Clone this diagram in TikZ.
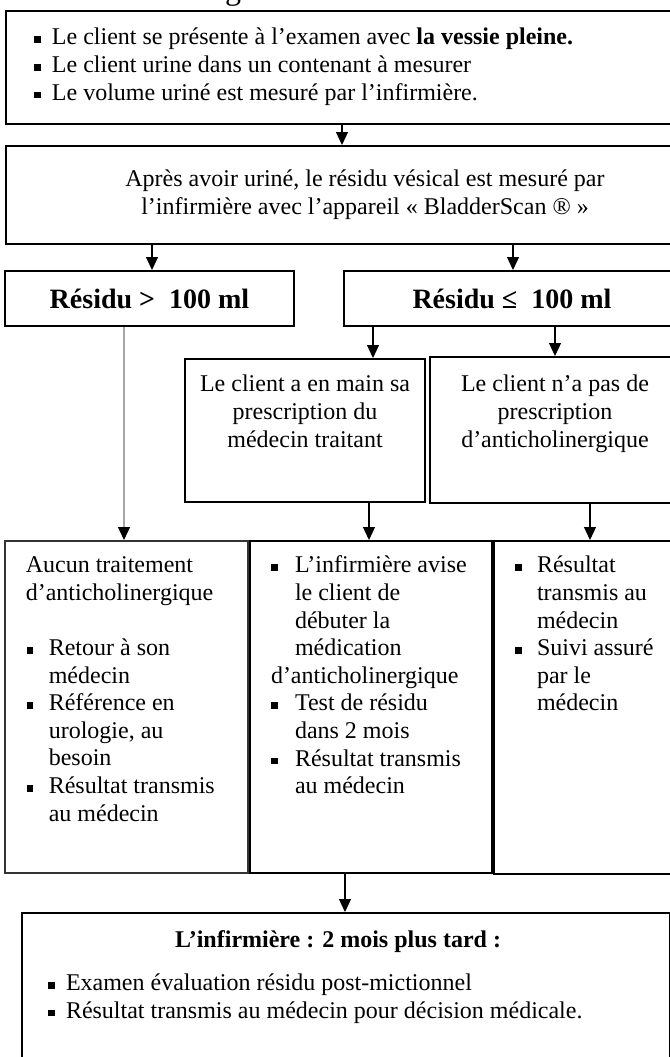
\documentclass[tikz,border=0pt]{standalone}
\usepackage{fontspec}
\setmainfont{Liberation Serif}
\usetikzlibrary{arrows.meta}
\newcommand{\bul}{\rule[1pt]{3.3pt}{3.3pt}}
\newcommand{\lineat}[2]{\noindent\hspace*{#1}\strut#2\par}
\newcommand{\bulat}[3]{\noindent\hspace*{#1}\makebox[\dimexpr#2-#1\relax][l]{\bul}\strut#3\par}
\tikzset{
  bx/.style={draw=black, line width=1pt, inner sep=0pt, anchor=north west},
  hdr/.style={bx, font={\fontsize{14}{16}\selectfont\bfseries}},
  arr/.style={line width=0.6pt, -{Triangle[width=6pt,length=6.5pt]}},
  garr/.style={draw=black!35, line width=0.6pt, -{Triangle[width=6pt,length=6.5pt,color=black]}},
}
\begin{document}
\begin{tikzpicture}[x=0.5pt,y=-0.5pt,font=\fontsize{12}{13.8}\selectfont]
\useasboundingbox (0,0) rectangle (670,1057);
\clip (0,0) rectangle (670,1057);

\node[font=\fontsize{16}{19}\selectfont, anchor=base, inner sep=0pt] (ttl) at (233,-1) {g};

\node[bx] (b1) at (5,10) {\parbox[c][56.5pt][t]{359pt}{\vspace*{7.3pt}%
  \bulat{14pt}{23pt}{Le client se présente à l’examen avec \textbf{la vessie pleine.}}
  \bulat{14pt}{23pt}{Le client urine dans un contenant à mesurer}
  \bulat{14pt}{23pt}{Le volume uriné est mesuré par l’infirmière.}}};

\node[bx] (b2) at (5,145) {\parbox[c][49pt][t]{359pt}{\vspace*{10.8pt}\centering
  \strut Après avoir uriné, le résidu vésical est mesuré par\\
  \strut l’infirmière avec l’appareil « BladderScan ® »\par}};

\node[hdr, minimum width=144.5pt, minimum height=27.5pt] (r1) at (4,270) {Résidu >\ \ 100 ml};
\node[hdr, minimum width=168pt, minimum height=27.5pt] (r2) at (343,270) {Résidu ≤\ \ 100 ml};

\node[bx] (ca) at (184,358) {\parbox[c][71.5pt][t]{120pt}{\vspace*{6.8pt}\centering
  \strut Le client a en main sa\\ \strut prescription du\\ \strut médecin traitant\par}};
\node[bx] (cb) at (429,356) {\parbox[c][73pt][t]{125pt}{\vspace*{7.8pt}\centering
  \strut Le client n’a pas de\\ \strut prescription\\ \strut d’anticholinergique\par}};

\node[bx, draw=black!80, line width=0.8pt] (lb) at (4,540) {\parbox[c][166pt][t]{121.5pt}{\vspace*{6.3pt}%
  \lineat{10.5pt}{Aucun traitement}
  \lineat{10.5pt}{d’anticholinergique}
  \lineat{0pt}{}
  \bulat{11pt}{22pt}{Retour à son}
  \lineat{22pt}{médecin}
  \bulat{11pt}{22pt}{Référence en}
  \lineat{22pt}{urologie, au}
  \lineat{22pt}{besoin}
  \bulat{11pt}{22pt}{Résultat transmis}
  \lineat{22pt}{au médecin}}};

\node[bx] (mb) at (249,540) {\parbox[c][166pt][t]{121pt}{\vspace*{6.3pt}%
  \bulat{10.5pt}{22.5pt}{L’infirmière avise}
  \lineat{22.5pt}{le client de}
  \lineat{22.5pt}{débuter la}
  \lineat{22.5pt}{médication}
  \lineat{10.5pt}{d’anticholinergique}
  \bulat{10.5pt}{22.5pt}{Test de résidu}
  \lineat{22.5pt}{dans 2 mois}
  \bulat{10.5pt}{22.5pt}{Résultat transmis}
  \lineat{22.5pt}{au médecin}}};

\node[bx] (rb) at (493,540) {\parbox[c][166.5pt][t]{93pt}{\vspace*{6.3pt}%
  \bulat{10.5pt}{21.5pt}{Résultat}
  \lineat{21.5pt}{transmis au}
  \lineat{21.5pt}{médecin}
  \bulat{10.5pt}{21.5pt}{Suivi assuré}
  \lineat{21.5pt}{par le}
  \lineat{21.5pt}{médecin}}};

\node[bx] (fb) at (21,912) {\parbox[c][94pt][t]{324pt}{\vspace*{7.8pt}%
  {\centering\hspace*{-8pt}\strut\textbf{L’infirmière : 2 mois plus tard :}\par}
  \vspace{7.5pt}
  \bulat{13pt}{22pt}{Examen évaluation résidu post-mictionnel}
  \bulat{13pt}{22pt}{Résultat transmis au médecin pour décision médicale.}}};

\coordinate (x1) at (342,0);
\coordinate (x2) at (152,0);
\coordinate (x3) at (513,0);
\coordinate (x4) at (373,0);
\coordinate (x5) at (555,0);
\coordinate (x6) at (124,0);
\coordinate (x7) at (369,0);
\coordinate (x8) at (590,0);
\coordinate (x9) at (345,0);

\draw[arr] (x1 |- b1.south) -- (x1 |- b2.north);
\draw[arr] (x2 |- b2.south) -- (x2 |- r1.north);
\draw[arr] (x3 |- b2.south) -- (x3 |- r2.north);
\draw[arr] (x4 |- r2.south) -- (x4 |- ca.north);
\draw[arr] (x5 |- r2.south) -- (x5 |- cb.north);
\draw[garr] (x6 |- r1.south) -- (x6 |- lb.north);
\draw[arr] (x7 |- ca.south) -- (x7 |- mb.north);
\draw[arr] (x8 |- cb.south) -- (x8 |- rb.north);
\draw[arr] (x9 |- mb.south) -- (x9 |- fb.north);
\end{tikzpicture}
\end{document}
